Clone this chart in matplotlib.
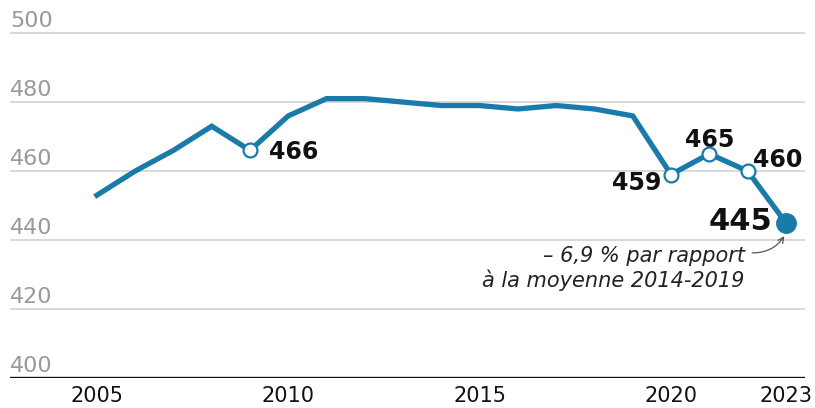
import matplotlib.pyplot as plt

years = list(range(2005, 2024))
values = [453, 460, 466, 473, 466, 476, 481, 481, 480, 479, 479, 478, 479, 478, 476, 459, 465, 460, 445]

yticks = [400, 420, 440, 460, 480, 500]
xticks = [2005, 2010, 2015, 2020, 2023]

blue = '#1a7bab'

fig = plt.figure(figsize=(8.15, 4.08), dpi=100)
ax = fig.add_axes([10 / 815, 30 / 408, 795 / 815, 358 / 408])

ax.set_xlim(2002.73, 2023.5)
ax.set_ylim(400, 503.8)

for v in yticks[1:]:
    ax.axhline(v, color='#d2d2d2', lw=1.2, zorder=1)
for v in yticks:
    ax.text(2002.73, v + 0.6, str(v), color='#999999', fontsize=16, va='bottom', ha='left')
ax.axhline(400, color='#111111', lw=2.4, zorder=2)

ax.plot(years, values, color=blue, lw=3.8, zorder=3, solid_joinstyle='miter')

# marked points
hollow = [2009, 2020, 2021, 2022]
for yr in hollow:
    ax.plot(yr, values[years.index(yr)], 'o', ms=10, mfc='white', mec=blue, mew=1.6, zorder=4)
ax.plot(2023, values[-1], 'o', ms=14, color=blue, zorder=4)

bold = dict(fontsize=17, fontweight='bold', color='#111111')
ax.text(2009.5, 465.6, '466', ha='left', va='center', **bold)
ax.text(2019.75, 456.5, '459', ha='right', va='center', **bold)
ax.text(2021, 469, '465', ha='center', va='center', **bold)
ax.text(2022.13, 463.2, '460', ha='left', va='center', **bold)
ax.text(2022.65, 445.3, '445', ha='right', va='center', fontsize=22, fontweight='bold', color='#111111')

ax.text(2021.92, 438.2, '– 6,9 % par rapport\nà la moyenne 2014-2019', ha='right', va='top',
        fontsize=15, style='italic', color='#222222', linespacing=1.2)
ax.annotate('', xy=(2023, 441.8), xytext=(2022.05, 436.3),
            arrowprops=dict(arrowstyle='->', color='#555555', lw=0.9,
                            connectionstyle='arc3,rad=0.3'))

ax.set_yticks([])
ax.set_xticks(xticks)
ax.set_xticklabels([str(x) for x in xticks], fontsize=15, color='#111111')
ax.tick_params(axis='x', length=0, pad=6)
for s in ax.spines.values():
    s.set_visible(False)

fig.savefig('out.png', dpi=100)
